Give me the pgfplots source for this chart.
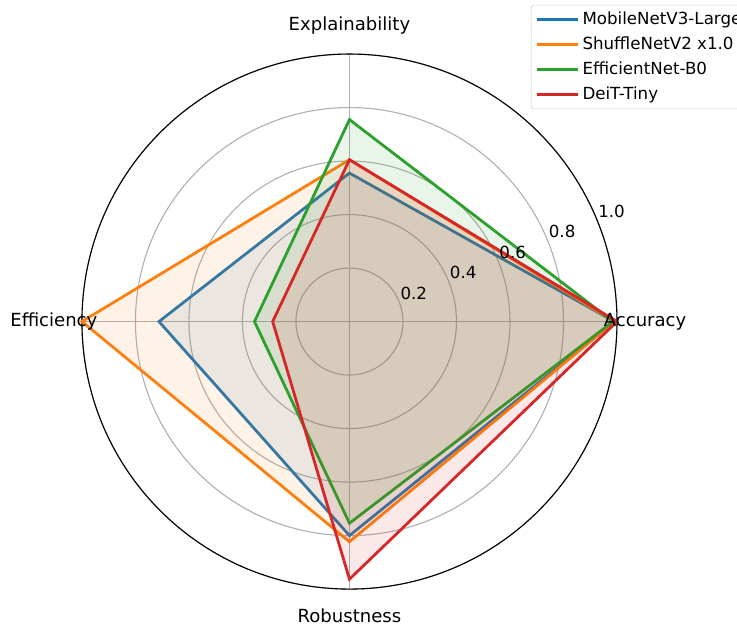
\documentclass[border=0pt]{standalone}
\usepackage{fontspec}
\setmainfont{DejaVu Sans}
\usepackage{pgfplots}
\pgfplotsset{compat=1.18}
\usepgfplotslibrary{polar}
\definecolor{tblue}{HTML}{1F77B4}
\definecolor{torange}{HTML}{FF7F0E}
\definecolor{tgreen}{HTML}{2CA02C}
\definecolor{tred}{HTML}{D62728}
\definecolor{gridgray}{HTML}{B0B0B0}
\begin{document}
\begin{tikzpicture}[font=\fontsize{12}{14.4}\selectfont]
\begin{polaraxis}[
  at={(0,0)}, anchor=center,
  scale only axis, width=385.2pt, height=385.2pt,
  ymin=0, ymax=1,
  xtick={0,90,180,270}, xticklabels={},
  ytick={0.2,0.4,0.6,0.8,1.0}, yticklabels={},
  grid=major,
  major grid style={gridgray, line width=0.8pt},
  major tick length=0pt,
  separate axis lines,
  x axis line style={black, line width=0.8pt},
  y axis line style={draw=none},
  clip=false,
  legend cell align=left,
  legend style={at={(axis description cs:0.839,1.092)}, anchor=north west,
    draw=black!20, rounded corners=2pt, fill=white, fill opacity=0.8, text opacity=1,
    font=\fontsize{12}{14.4}\selectfont, row sep=3.4pt, inner xsep=3pt, inner ysep=3pt},
  legend image code/.code={\draw[#1, fill=none] (0pt,0pt) -- (25pt,0pt);\path (0pt,0pt) -- (30pt,0pt);},
]
\addplot[tblue, line width=2pt, fill=tblue, fill opacity=0.1] coordinates {(0,0.99) (90,0.555) (180,0.712) (270,0.80) (360,0.99)};
\addlegendentry{MobileNetV3-Large}
\addplot[torange, line width=2pt, fill=torange, fill opacity=0.1] coordinates {(0,0.99) (90,0.605) (180,1.0) (270,0.823) (360,0.99)};
\addlegendentry{ShuffleNetV2 x1.0}
\addplot[tgreen, line width=2pt, fill=tgreen, fill opacity=0.1] coordinates {(0,0.985) (90,0.755) (180,0.355) (270,0.754) (360,0.985)};
\addlegendentry{EfficientNet-B0}
\addplot[tred, line width=2pt, fill=tred, fill opacity=0.1] coordinates {(0,1.0) (90,0.605) (180,0.287) (270,0.963) (360,1.0)};
\addlegendentry{DeiT-Tiny}
\node[inner sep=0pt, font=\fontsize{13}{15.6}\selectfont] at (axis cs:0,1.105) {Accuracy};
\node[inner sep=0pt, font=\fontsize{13}{15.6}\selectfont] at (axis cs:90,1.105) {Explainability};
\node[inner sep=0pt, font=\fontsize{13}{15.6}\selectfont] at (axis cs:180,1.105) {Efficiency};
\node[inner sep=0pt, font=\fontsize{13}{15.6}\selectfont] at (axis cs:270,1.1) {Robustness};
\node[anchor=south west, inner sep=1pt] at (axis cs:22.5,0.2) {0.2};
\node[anchor=south west, inner sep=1pt] at (axis cs:22.5,0.4) {0.4};
\node[anchor=south west, inner sep=1pt] at (axis cs:22.5,0.6) {0.6};
\node[anchor=south west, inner sep=1pt] at (axis cs:22.5,0.8) {0.8};
\node[anchor=south west, inner sep=1pt] at (axis cs:22.5,1.0) {1.0};
\end{polaraxis}
\pgfresetboundingbox
\path (-251.6pt,-219.2pt) rectangle (279.0pt,231.5pt);
\end{tikzpicture}
\end{document}
